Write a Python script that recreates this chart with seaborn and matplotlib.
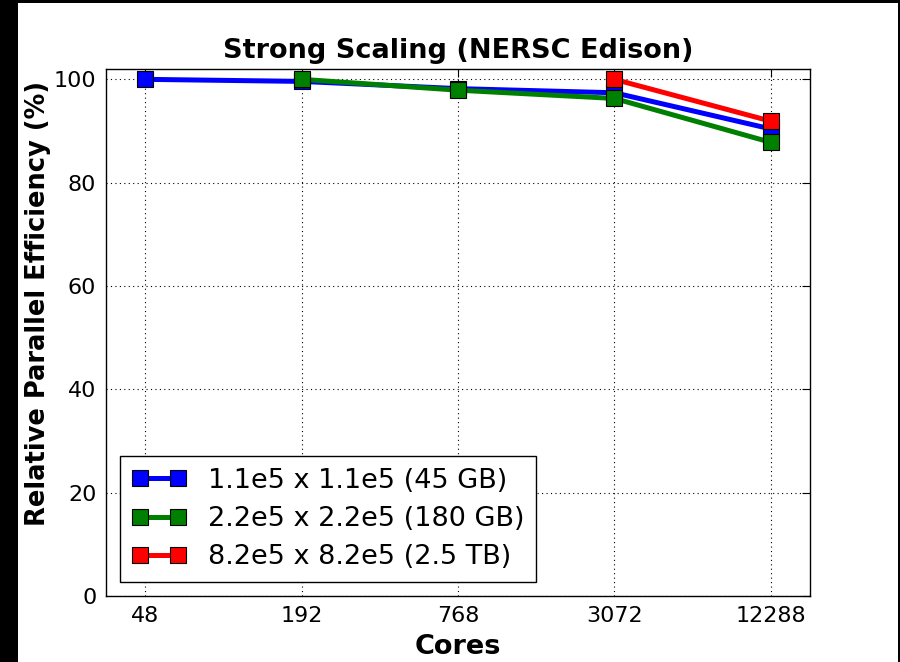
import matplotlib
matplotlib.use("Agg")
import matplotlib.pyplot as plt
from matplotlib.patches import Rectangle
from matplotlib.ticker import NullLocator, FixedLocator, FixedFormatter
import numpy as np
import pandas as pd
import seaborn as sns

# Core counts and relative parallel efficiency (%) per problem size
cores = [48, 192, 768, 3072, 12288]
eff_45gb = [100.0, 99.6, 98.2, 97.4, 90.4]
cores_180gb = [192, 768, 3072, 12288]
eff_180gb = [100.0, 97.9, 96.3, 87.8]
cores_2tb = [3072, 12288]
eff_2tb = [100.0, 91.9]
series_labels = ["1.1e5 x 1.1e5 (45 GB)", "2.2e5 x 2.2e5 (180 GB)", "8.2e5 x 8.2e5 (2.5 TB)"]
series_colors = ["#0000ff", "#008000", "#ff0000"]
y_ticks = [0, 20, 40, 60, 80, 100]

sns.set_style("white")
plt.rcParams["font.family"] = ["DejaVu Sans"]
plt.rcParams["text.color"] = "black"
plt.rcParams["axes.labelcolor"] = "black"
plt.rcParams["xtick.color"] = "black"
plt.rcParams["ytick.color"] = "black"

fig = plt.figure(figsize=(9, 6.62), dpi=100, facecolor="black")
# white page area inside the dark frame
fig.patches.append(Rectangle((18 / 900, 0), 880 / 900, 659 / 662,
                             transform=fig.transFigure, facecolor="white",
                             edgecolor="none", zorder=-10))
ax = fig.add_axes([106 / 900, 66 / 662, 704 / 900, 527 / 662])

frames = [
    pd.DataFrame({"Cores": cores, "Efficiency": eff_45gb}),
    pd.DataFrame({"Cores": cores_180gb, "Efficiency": eff_180gb}),
    pd.DataFrame({"Cores": cores_2tb, "Efficiency": eff_2tb}),
]
for df, lab, col in zip(frames, series_labels, series_colors):
    sns.lineplot(data=df, x="Cores", y="Efficiency", ax=ax, color=col, label=lab,
                 marker="s", markersize=11, markeredgecolor="black",
                 markeredgewidth=0.8, linewidth=3.6, legend=False)

ax.set_xscale("log", base=2)
ax.set_xlim(48 / np.sqrt(2), 12288 * np.sqrt(2))
ax.xaxis.set_major_locator(FixedLocator(cores))
ax.xaxis.set_major_formatter(FixedFormatter([str(c) for c in cores]))
ax.xaxis.set_minor_locator(NullLocator())
ax.set_ylim(0, 102)
ax.set_yticks(y_ticks)

ax.grid(True, linestyle=(0, (1, 3)), color="black", linewidth=0.8)
ax.tick_params(direction="in", length=6, width=0.8, top=True, right=True,
               labelsize=16, pad=7, colors="black")
for sp in ax.spines.values():
    sp.set_color("black")
    sp.set_linewidth(1.0)

ax.set_title("Strong Scaling (NERSC Edison)", fontsize=19.5, fontweight="bold", pad=8)
ax.set_xlabel("Cores", fontsize=19.5, fontweight="bold", labelpad=6)
ax.set_ylabel("Relative Parallel Efficiency (%)", fontsize=18.5, fontweight="bold")
ax.yaxis.set_label_coords(-0.078, 0.556)

leg = ax.legend(loc="lower left", numpoints=2, fontsize=19.5, frameon=True,
                fancybox=False, handlelength=2.0, borderaxespad=0.5,
                borderpad=0.45, labelspacing=0.45, handletextpad=0.8)
leg.get_frame().set_edgecolor("black")
leg.get_frame().set_linewidth(1.0)
leg.get_frame().set_alpha(1)

fig.savefig("out.png", dpi=100, facecolor=fig.get_facecolor())
